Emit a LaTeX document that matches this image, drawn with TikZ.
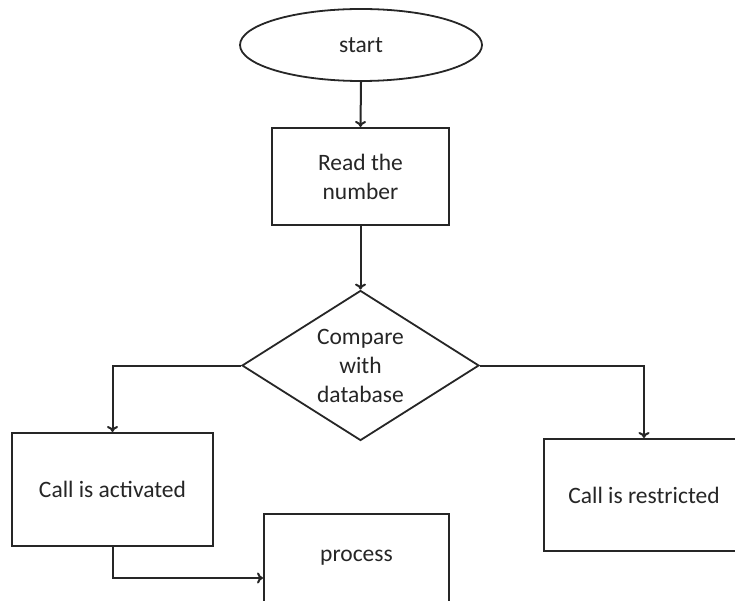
\documentclass[tikz,border=0pt]{standalone}
\usepackage{fontspec}
\setmainfont{Carlito}
\usetikzlibrary{shapes.geometric,arrows.meta}
\begin{document}
\begin{tikzpicture}[x=1pt,y=-1pt,
  every node/.style={font=\fontsize{23.5}{29}\selectfont, text=black!85, align=center},
  box/.style={draw=black!85, line width=2pt, rectangle, inner sep=0pt},
  oval/.style={draw=black!85, line width=1.8pt, ellipse, inner sep=0pt},
  dia/.style={draw=black!85, line width=1.8pt, diamond, inner sep=0pt, aspect=1.58},
  conn/.style={draw=black!85, line width=2pt, -{To[length=6pt,width=11pt]}}]
\path[use as bounding box] (0,0) rectangle (735,601);
\clip (0,0) rectangle (735,601);
\fill[white] (0,0) rectangle (735,601);
\node[oval, minimum width=242pt, minimum height=72pt] (start) at (361,45) {start};
\node[box, minimum width=177pt, minimum height=97pt] (read) at (360.5,176.5) {Read the\\number};
\node[dia, minimum width=237pt, minimum height=150pt] (cmp) at (360.5,365.5) {Compare\\with\\database};
\node[box, minimum width=201pt, minimum height=113pt] (act) at (112.5,489.5) {Call is activated};
\node[box, minimum width=200pt, minimum height=112pt] (rest) at (644,495) {Call is restricted};
\node[box, minimum width=185pt, minimum height=88pt] (proc) at (356.5,558) {process};
\draw[conn] (start.south) -- (read.north);
\draw[conn] (read.south) -- (cmp.north);
\draw[conn] (cmp.west) -| (act.north);
\draw[conn] (cmp.east) -| (rest.north);
\draw[conn] (act.south) |- ([yshift=-20pt]proc.west);
\end{tikzpicture}
\end{document}
